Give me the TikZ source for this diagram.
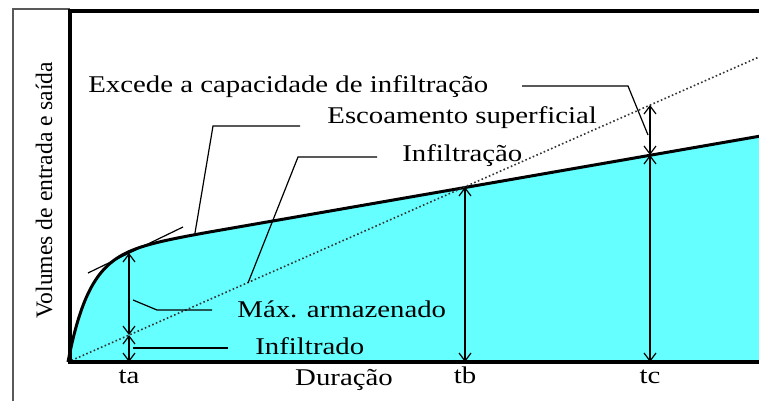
\documentclass[tikz,border=0pt]{standalone}
\usepackage{fontspec}
\setmainfont{Liberation Serif}[FakeStretch=1.2]
\newfontfamily\axisfont{Liberation Serif}
\usetikzlibrary{arrows.meta}
\definecolor{water}{RGB}{102,255,255}

\begin{document}
\begin{tikzpicture}[x=0.5pt,y=-0.5pt,
  dim/.style={line width=0.6pt,
    {Straight Barb[length=4pt,width=6pt]}-{Straight Barb[length=4pt,width=6pt]}},
  leader/.style={line width=0.6pt},
  lbl/.style={inner sep=0pt,anchor=base west,font=\fontsize{12}{14}\selectfont},
  tick/.style={inner sep=0pt,anchor=base,font=\fontsize{12}{14}\selectfont}]
\useasboundingbox (0,0) rectangle (759,401);

% stored volume under the curve
\fill[water] (68,362) -- plot[domain=0:140,samples=120]
  ({68+\x},{362-(105.5+0.174*\x-105.5*exp(-\x/21))}) -- (759,136.3) -- (759,362) -- cycle;
\draw[line width=1.5pt] plot[domain=0:140,samples=120]
  ({68+\x},{362-(105.5+0.174*\x-105.5*exp(-\x/21))}) -- (759,136.3);

% infiltration capacity
\coordinate (o) at (68,362);
\coordinate (cap) at (759,57);
\draw[line width=0.8pt,dash pattern=on 0.8pt off 1.2pt,black!80] (o) -- (cap);

% frame and axes
\draw[gray!70!black,line width=0.6pt] (13,401) -- (13,9) -- (70,9);
\draw[line width=2pt] (68,11) -- (759,11);
\draw[line width=1.6pt] (70,10) -- (70,362) -- (759,362);

% points on the curves
\coordinate (ta-top) at (129,253);
\coordinate (ta-mid) at (129,335);
\coordinate (ta-bot) at (129,362);
\coordinate (tb-top) at (465,187);
\coordinate (tb-bot) at (465,362);
\coordinate (tc-top) at (650,105);
\coordinate (tc-mid) at (650,155);
\coordinate (tc-bot) at (650,362);

\draw[dim] (ta-top) -- (ta-mid);
\draw[dim] (ta-mid) -- (ta-bot);
\draw[dim] (tb-top) -- (tb-bot);
\draw[dim] (tc-top) -- (tc-mid);
\draw[dim] (tc-mid) -- (tc-bot);

% tangent at ta
\coordinate (tg1) at (88,273);
\coordinate (tg2) at (183,227);
\draw[leader] (tg1) -- (tg2);

% labels
\node[lbl] (exc) at (88,93) {Excede a capacidade de infiltração};
\node[lbl] (esc) at (327,123) {Escoamento superficial};
\node[lbl] (inf) at (402,161) {Infiltração};
\node[lbl] (max) at (237,317) {Máx. armazenado};
\node[lbl] (ifd) at (255,354) {Infiltrado};
\node[tick] (ta) at (129,383) {ta};
\node[tick] (tb) at (465,383) {tb};
\node[tick] (tc) at (650,383) {tc};
\node[tick] (dur) at (344,385) {Duração};
\node[rotate=90,inner sep=0pt,font=\axisfont\fontsize{11.8}{14}\selectfont] (vol) at (44,190)
  {Volumes de entrada e saída};

% leader lines
\coordinate (exc-a) at (522,86);
\coordinate (exc-b) at (628,86);
\coordinate (exc-c) at (648,135);
\draw[leader] (exc-a) -- (exc-b) -- (exc-c);
\coordinate (esc-a) at (300,126);
\coordinate (esc-b) at (213,126);
\coordinate (esc-c) at (195,233);
\draw[leader] (esc-a) -- (esc-b) -- (esc-c);
\coordinate (inf-a) at (377,157);
\coordinate (inf-b) at (298,157);
\coordinate (inf-c) at (248,283);
\draw[leader] (inf-a) -- (inf-b) -- (inf-c);
\coordinate (max-a) at (212,310);
\coordinate (max-b) at (157,310);
\coordinate (max-c) at (133,300);
\draw[leader] (max-a) -- (max-b) -- (max-c);
\coordinate (ifd-a) at (228,348);
\coordinate (ifd-b) at (133,348);
\draw[leader] (ifd-a) -- (ifd-b);
\end{tikzpicture}
\end{document}
